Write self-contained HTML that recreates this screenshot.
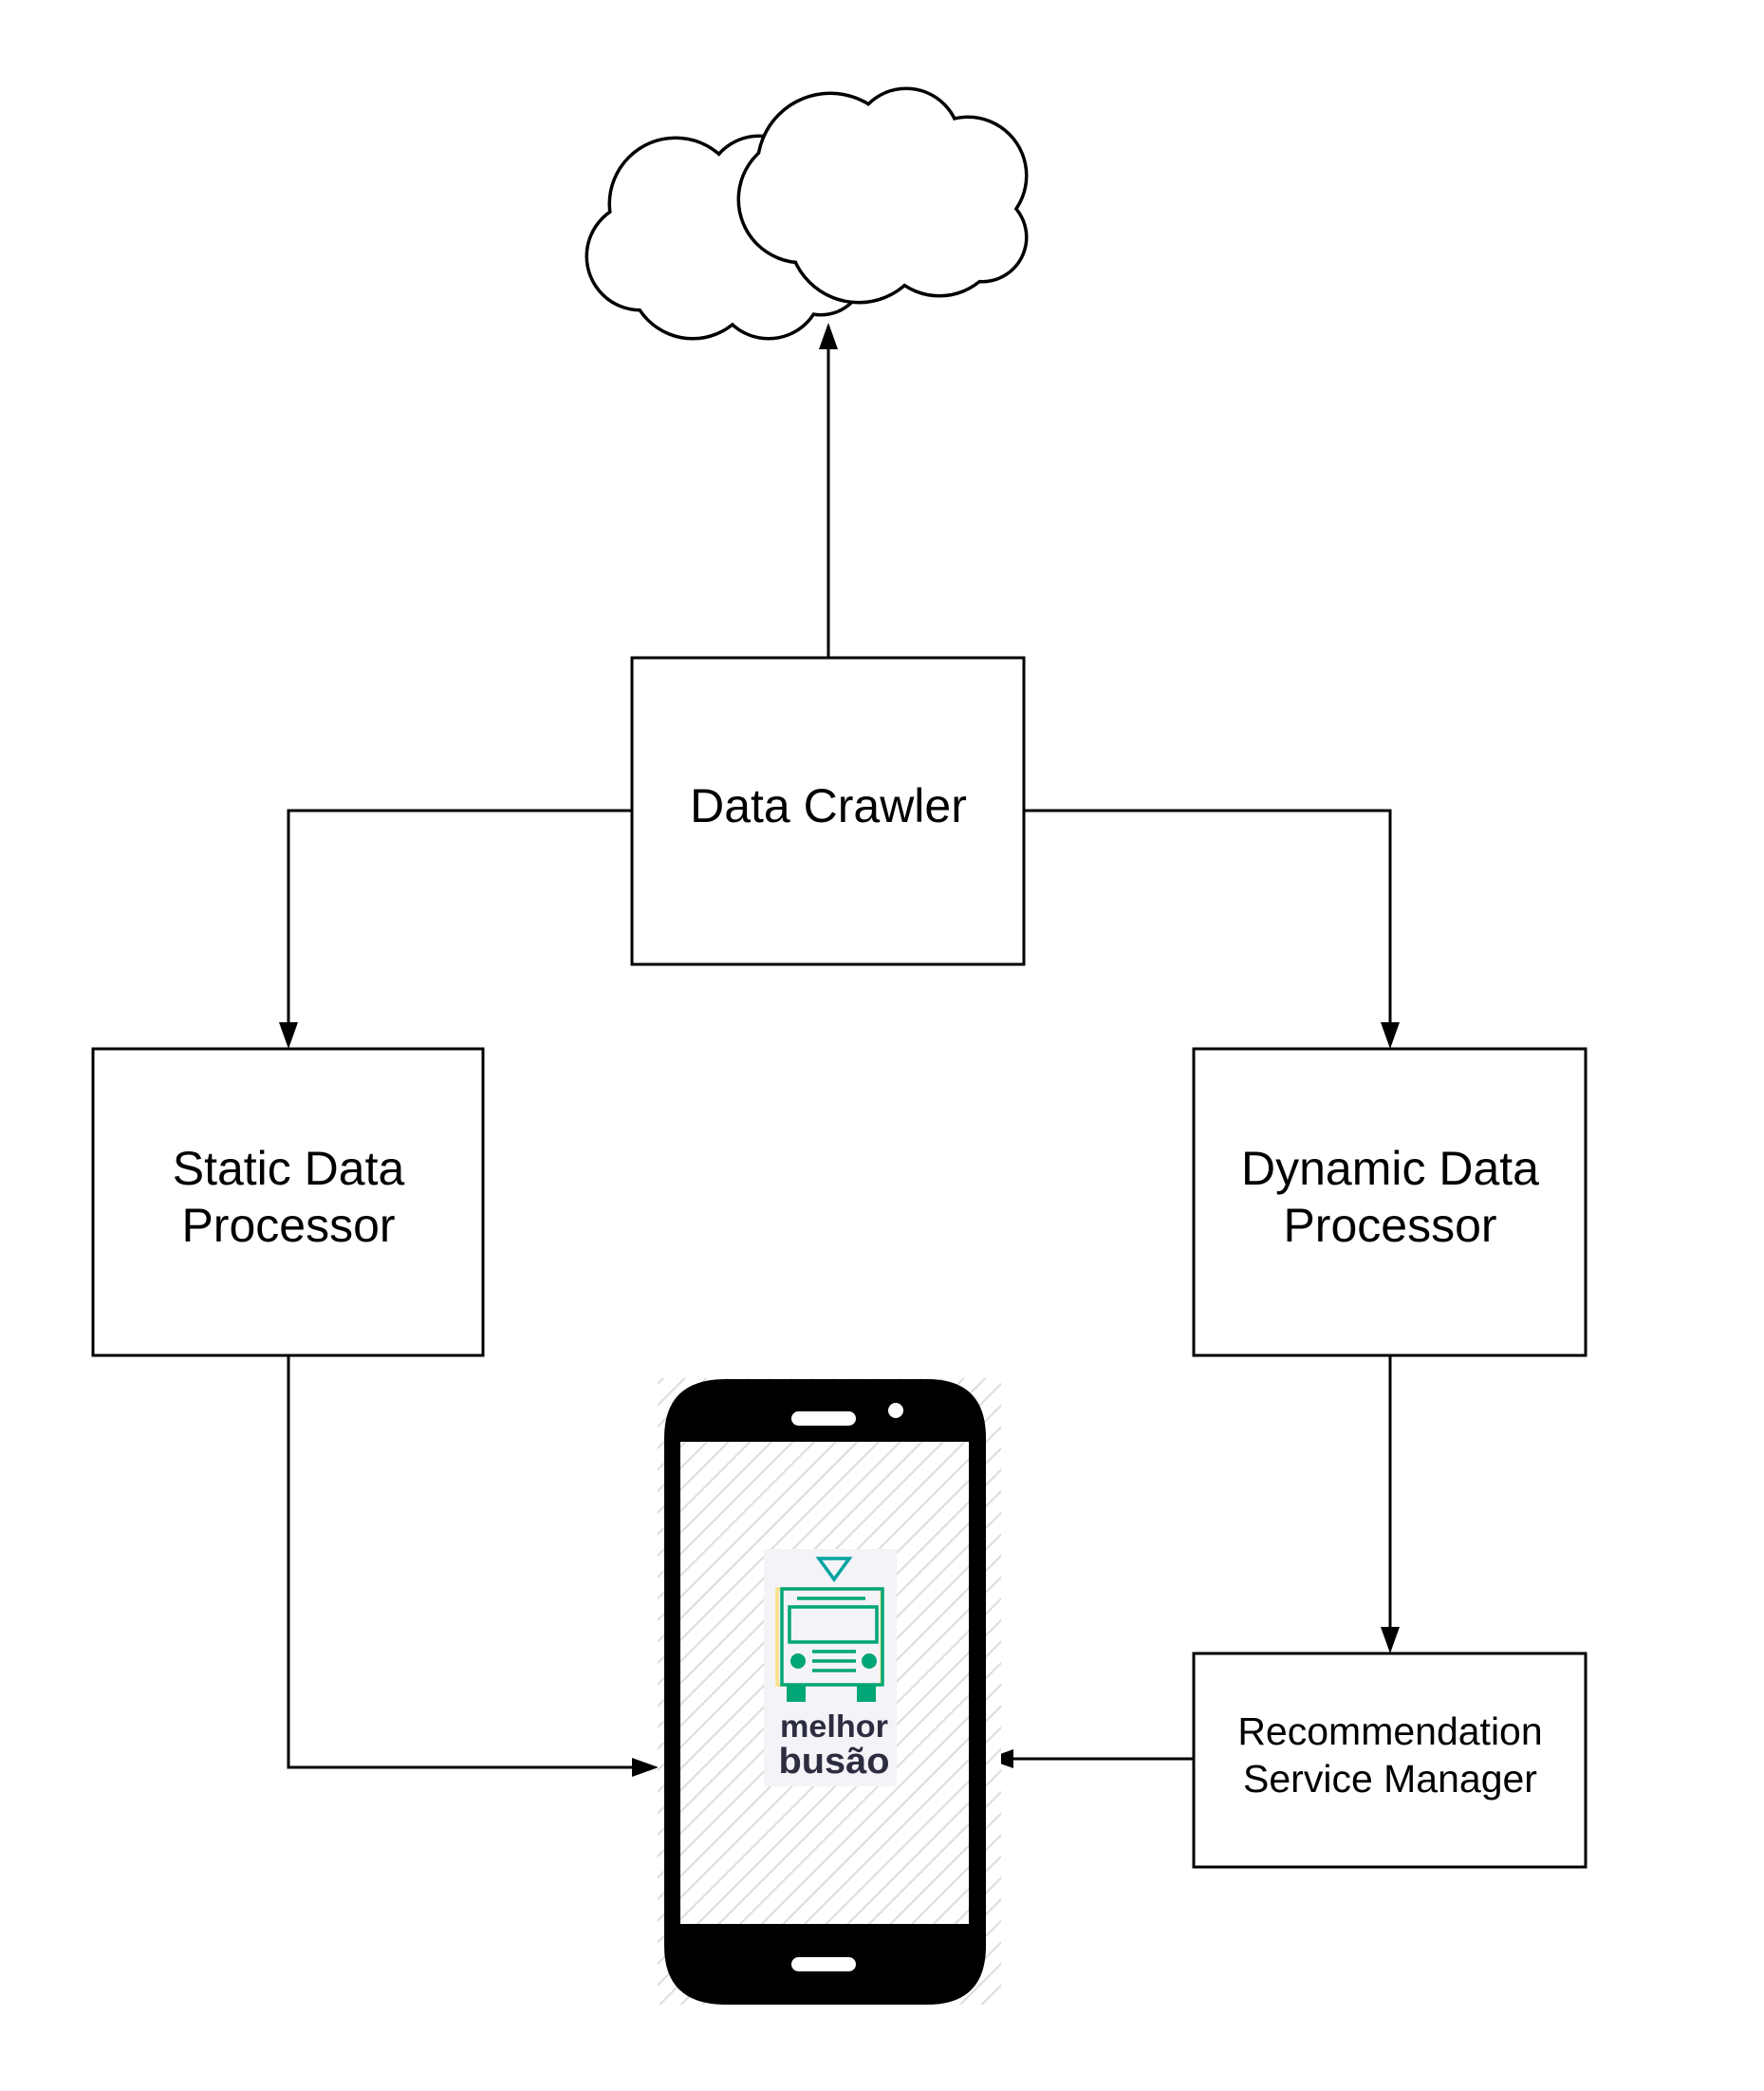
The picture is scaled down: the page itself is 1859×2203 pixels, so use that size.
<!DOCTYPE html>
<html><head><meta charset="utf-8"><style>
html,body{margin:0;padding:0;background:#fff;}
svg{display:block;}
text{font-family:"Liberation Sans",sans-serif;fill:#000;}
</style></head><body>
<svg width="1859" height="2203" viewBox="0 0 1859 2203" xmlns="http://www.w3.org/2000/svg">
<defs>
<pattern id="hatch" patternUnits="userSpaceOnUse" width="16" height="16" patternTransform="rotate(45)">
<rect width="16" height="16" fill="#fff"/>
<line x1="0" y1="0" x2="0" y2="16" stroke="#dcdcdc" stroke-width="4"/>
</pattern>
</defs>
<rect width="1859" height="2203" fill="#fff"/>

<g>
<g fill="none" stroke="#000" stroke-width="7">
<circle cx="712" cy="215" r="68"/>
<circle cx="800" cy="200" r="55"/>
<circle cx="675" cy="270" r="55"/>
<circle cx="730" cy="290" r="65"/>
<circle cx="810" cy="300" r="55"/>
<circle cx="865" cy="285" r="45"/>
<circle cx="800" cy="250" r="60"/>
</g>
<g fill="#fff">
<circle cx="712" cy="215" r="68"/>
<circle cx="800" cy="200" r="55"/>
<circle cx="675" cy="270" r="55"/>
<circle cx="730" cy="290" r="65"/>
<circle cx="810" cy="300" r="55"/>
<circle cx="865" cy="285" r="45"/>
<circle cx="800" cy="250" r="60"/>
</g>
</g>
<g>
<g fill="none" stroke="#000" stroke-width="7">
<circle cx="875" cy="175" r="75"/>
<circle cx="955" cy="150" r="55"/>
<circle cx="1020" cy="185" r="60"/>
<circle cx="845" cy="210" r="65"/>
<circle cx="905" cy="245" r="72"/>
<circle cx="990" cy="245" r="65"/>
<circle cx="1035" cy="250" r="45"/>
</g>
<g fill="#fff">
<circle cx="875" cy="175" r="75"/>
<circle cx="955" cy="150" r="55"/>
<circle cx="1020" cy="185" r="60"/>
<circle cx="845" cy="210" r="65"/>
<circle cx="905" cy="245" r="72"/>
<circle cx="990" cy="245" r="65"/>
<circle cx="1035" cy="250" r="45"/>
</g>
</g>

<g stroke="#000" stroke-width="3" fill="none">
<line x1="873" y1="693" x2="873" y2="360"/>
<polyline points="666,854 304,854 304,1080"/>
<polyline points="1079,854 1465,854 1465,1080"/>
<polyline points="304,1428 304,1862 670,1862"/>
<line x1="1465" y1="1428" x2="1465" y2="1718"/>
<line x1="1258" y1="1853" x2="1062" y2="1853"/>
</g>
<g fill="#000">
<polygon points="873,340 863,368 883,368"/>
<polygon points="304,1105 294,1077 314,1077"/>
<polygon points="1465,1105 1455,1077 1475,1077"/>
<polygon points="694,1862 666,1852 666,1872"/>
<polygon points="1465,1742 1455,1714 1475,1714"/>
<polygon points="1040,1853 1068,1843 1068,1863"/>
</g>

<g fill="#fff" stroke="#000" stroke-width="3">
<rect x="666" y="693" width="413" height="323"/>
<rect x="98" y="1105" width="411" height="323"/>
<rect x="1258" y="1105" width="413" height="323"/>
<rect x="1258" y="1742" width="413" height="225"/>
</g>
<text x="873" y="866" font-size="50" text-anchor="middle">Data Crawler</text>
<text x="304" y="1248" font-size="50" text-anchor="middle">Static Data</text>
<text x="304" y="1308" font-size="50" text-anchor="middle">Processor</text>
<text x="1465" y="1248" font-size="50" text-anchor="middle">Dynamic Data</text>
<text x="1465" y="1308" font-size="50" text-anchor="middle">Processor</text>
<text x="1465" y="1838" font-size="41" text-anchor="middle">Recommendation</text>
<text x="1465" y="1888" font-size="41" text-anchor="middle">Service Manager</text>

<rect x="693" y="1452" width="362" height="660" fill="url(#hatch)"/>
<path fill="#000" fill-rule="evenodd" d="M765,1453 H977 Q1039,1453 1039,1515 V2050 Q1039,2112 977,2112 H765 Q700,2112 700,2050 V1515 Q700,1453 765,1453 Z M717,1519 V2027 H1021 V1519 Z"/>
<rect x="717" y="1519" width="304" height="508" fill="url(#hatch)"/>
<rect x="834" y="1487" width="68" height="15" rx="7.5" fill="#fff"/>
<circle cx="944" cy="1486" r="8" fill="#fff"/>
<rect x="834" y="2062" width="68" height="15" rx="7.5" fill="#fff"/>

<rect x="805" y="1632" width="140" height="250" fill="#f3f3f8"/>
<polygon points="863,1642 895,1642 879,1664" fill="none" stroke="#00a3a0" stroke-width="3.5"/>
<g fill="none" stroke-width="3.5">
<rect x="819" y="1674" width="110" height="101" stroke="#ffe08a"/>
<rect x="824" y="1674" width="106" height="101" stroke="#00a676"/>
<rect x="832" y="1693" width="92" height="37" stroke="#00a676"/>
<line x1="840" y1="1684" x2="912" y2="1684" stroke="#00a676"/>
<line x1="856" y1="1740" x2="902" y2="1740" stroke="#00a676"/>
<line x1="856" y1="1750" x2="902" y2="1750" stroke="#00a676"/>
<line x1="856" y1="1760" x2="902" y2="1760" stroke="#00a676"/>
</g>
<circle cx="841" cy="1750" r="8" fill="#00a676"/>
<circle cx="916" cy="1750" r="8" fill="#00a676"/>
<rect x="829" y="1775" width="20" height="18" fill="#00a676"/>
<rect x="903" y="1775" width="20" height="18" fill="#00a676"/>
<text x="879" y="1830" font-size="33" font-weight="bold" text-anchor="middle" style="fill:#2d2d40" textLength="114" lengthAdjust="spacingAndGlyphs">melhor</text>
<text x="879" y="1868" font-size="38" font-weight="bold" text-anchor="middle" style="fill:#2d2d40" textLength="117" lengthAdjust="spacingAndGlyphs">busão</text>
</svg>
</body></html>
